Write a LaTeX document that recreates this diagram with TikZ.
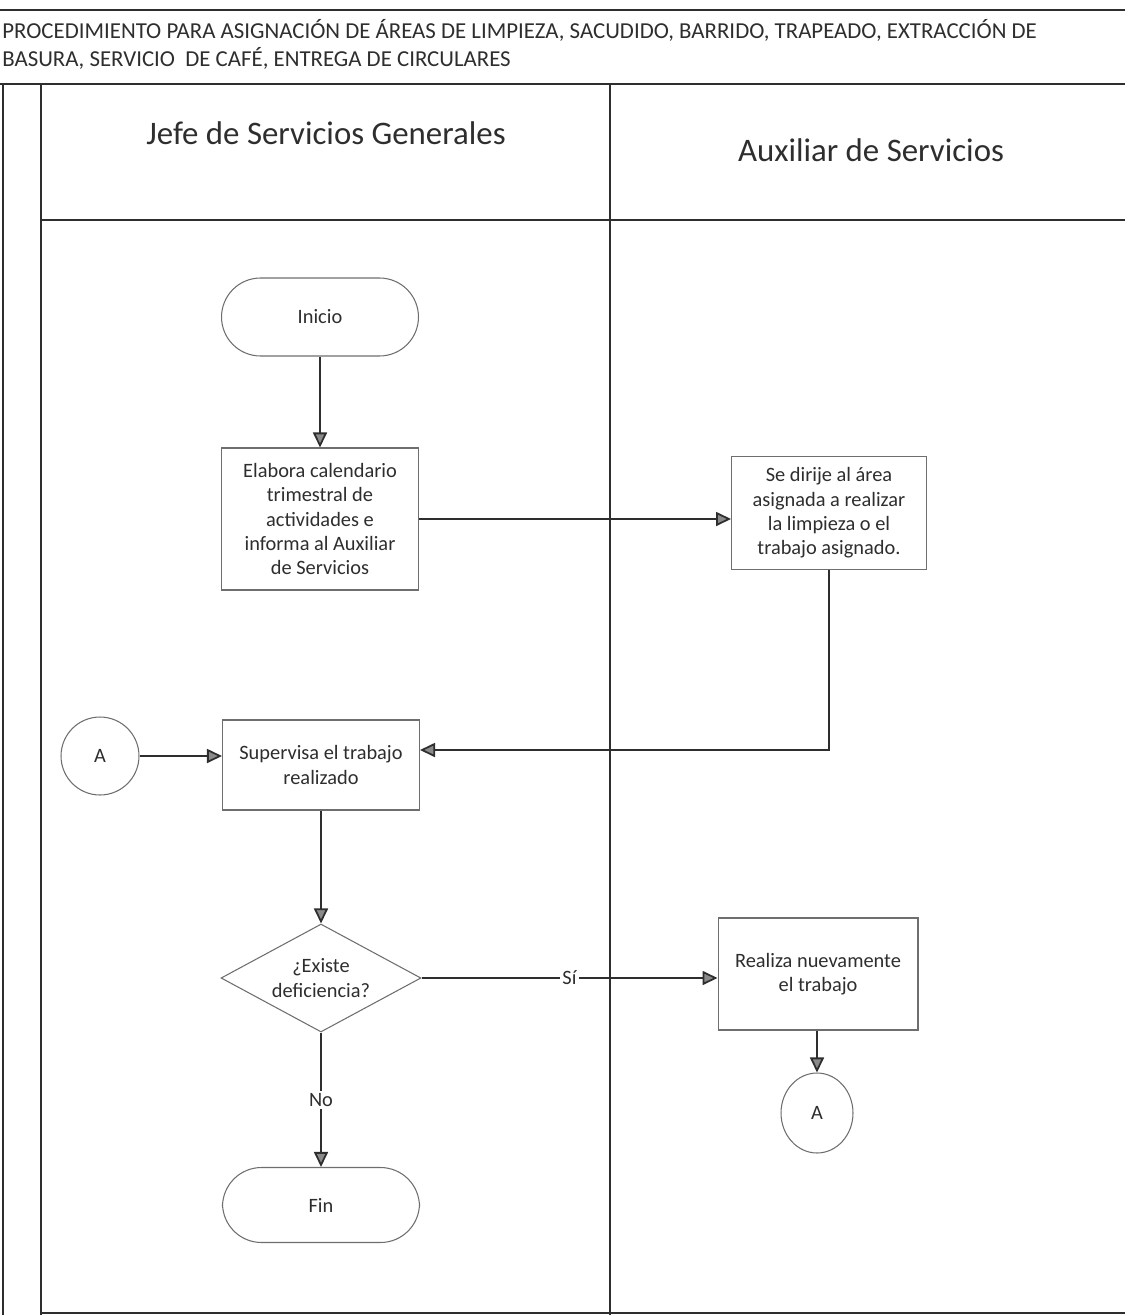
\documentclass[tikz,border=0pt]{standalone}
\usepackage{fontspec}
\setmainfont{Carlito}
\usetikzlibrary{arrows.meta,shapes.geometric,calc}
\definecolor{ink}{HTML}{2E2E2E}
\definecolor{boxline}{HTML}{6E6E6E}
\definecolor{tipgray}{HTML}{8A8A8A}
\begin{document}
\begin{tikzpicture}[x=0.02cm,y=-0.02cm,
  every node/.style={text=ink,font=\fontsize{11.6}{13.8}\selectfont},
  frame/.style={draw=ink,line width=1.1pt},
  process/.style={draw=boxline,line width=0.6pt,fill=white,align=center,
    minimum width=3.94cm,inner sep=2pt},
  terminal/.style={draw=boxline,line width=0.6pt,fill=white,rounded corners=0.78cm,
    minimum width=3.94cm,minimum height=1.56cm},
  decision/.style={draw=boxline,line width=0.6pt,fill=white,diamond,aspect=1.85,
    align=center,minimum width=4cm,minimum height=2.16cm,inner sep=0pt},
  connector/.style={draw=boxline,line width=0.6pt,fill=white,circle,minimum size=1.56cm},
  flow/.style={draw=ink,line width=1pt,
    -{Triangle[length=0.3cm,width=0.28cm,fill=tipgray]}},
  lanehead/.style={font=\fontsize{18.7}{22}\selectfont},
  tag/.style={fill=white,inner sep=1.5pt}
]
\useasboundingbox (0,0) rectangle (1125,1315);

% outer frame and swimlanes
\draw[frame] (0,10) -- (1125,10);
\draw[frame] (0,84) -- (1125,84);
\draw[frame] (3,84) -- (3,1315);
\draw[frame] (41,84) -- (41,1315);
\draw[frame] (610,84) -- (610,1315);
\draw[frame] (41,220) -- (1125,220);
\draw[frame] (41,1313) -- (1125,1313);

% title
\node[anchor=west,align=left,inner sep=0pt,font=\fontsize{13}{16}\selectfont] (title) at (2,44)
  {PROCEDIMIENTO PARA ASIGNACIÓN DE ÁREAS DE LIMPIEZA, SACUDIDO, BARRIDO, TRAPEADO, EXTRACCIÓN DE\\
   BASURA, SERVICIO\ \ DE CAFÉ, ENTREGA DE CIRCULARES};

% lane headers
\node[lanehead] (jefe) at (326,133) {Jefe de Servicios Generales};
\node[lanehead] (aux) at (871,150) {Auxiliar de Servicios};

% flow nodes
\node[terminal] (ini) at (320,317) {Inicio};
\node[process,minimum height=2.84cm] (elab) at (320,519)
  {Elabora calendario\\trimestral de\\actividades e\\informa al Auxiliar\\de Servicios};
\node[process,minimum width=3.9cm,minimum height=2.26cm] (sedir) at (829,513)
  {Se dirije al área\\asignada a realizar\\la limpieza o el\\trabajo asignado.};
\node[process,minimum height=1.8cm] (sup) at (321,765) {Supervisa el trabajo\\realizado};
\node[connector] (aL) at (100,756) {A};
\node[decision] (dec) at (321,978) {¿Existe\\deficiencia?};
\node[process,minimum width=4cm,minimum height=2.24cm] (real) at (818,974)
  {Realiza nuevamente\\el trabajo};
\node[draw=boxline,line width=0.6pt,fill=white,ellipse,minimum width=1.44cm,
  minimum height=1.6cm] (aR) at (817,1113) {A};
\node[terminal,minimum height=1.5cm] (fin) at (321,1205) {Fin};

% connectors
\draw[flow] (ini) -- (elab);
\draw[flow] (elab.east) -- (elab.east -| sedir.west);
\draw[flow] (sedir.south) |- ([yshift=0.3cm]sup.east);
\draw[flow] (aL) -- (aL -| sup.west);
\draw[flow] (sup) -- (dec);
\draw[flow] (dec.east) -- node[tag,pos=0.5] (si) {Sí} (dec.east -| real.west);
\draw[flow] (dec.south) -- node[tag,pos=0.5] (no) {No} (fin.north);
\draw[flow] (real.south -| aR.north) -- (aR.north);
\end{tikzpicture}
\end{document}
